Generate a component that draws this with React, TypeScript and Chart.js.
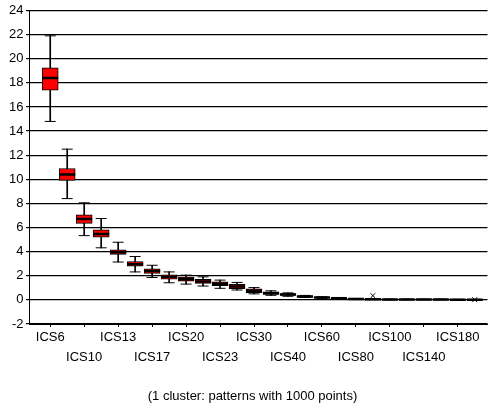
import React, { useEffect, useRef } from "react";
import { Chart, registerables } from "chart.js";

Chart.register(...registerables);

// Categories (every category, only every other one is labelled on the axis)
const categories = [
  "ICS6", "ICS8", "ICS10", "ICS12", "ICS13", "ICS15", "ICS17", "ICS18", "ICS20", "ICS22",
  "ICS23", "ICS25", "ICS30", "ICS35", "ICS40", "ICS50", "ICS60", "ICS70", "ICS80", "ICS90",
  "ICS100", "ICS120", "ICS140", "ICS160", "ICS180", "ICS200",
];

const whiskerLow = [14.8, 8.4, 5.33, 4.32, 3.14, 2.32, 1.86, 1.42, 1.31, 1.15, 0.96, 0.82, 0.5, 0.38, 0.3, 0.2, 0.13, 0.09, 0.04, 0.02, 0.01, 0.01, 0.01, 0.01, 0.0, 0.0];
const quartile1 = [17.4, 9.9, 6.35, 5.2, 3.78, 2.8, 2.2, 1.72, 1.56, 1.37, 1.17, 0.92, 0.6, 0.45, 0.36, 0.23, 0.16, 0.11, 0.06, 0.04, 0.02, 0.02, 0.02, 0.02, 0.01, 0.01];
const medians = [18.4, 10.4, 6.7, 5.47, 3.96, 2.95, 2.4, 1.91, 1.72, 1.53, 1.34, 1.1, 0.75, 0.55, 0.44, 0.28, 0.19, 0.14, 0.08, 0.06, 0.03, 0.03, 0.03, 0.03, 0.02, 0.02];
const quartile3 = [19.25, 10.9, 7.05, 5.8, 4.16, 3.17, 2.57, 2.07, 1.89, 1.7, 1.5, 1.28, 0.92, 0.66, 0.52, 0.33, 0.23, 0.17, 0.1, 0.08, 0.05, 0.05, 0.05, 0.05, 0.04, 0.03];
const whiskerHigh = [21.9, 12.5, 8.05, 6.75, 4.78, 3.6, 2.87, 2.32, 2.05, 1.91, 1.64, 1.45, 1.02, 0.75, 0.58, 0.37, 0.26, 0.2, 0.12, 0.1, 0.06, 0.06, 0.06, 0.06, 0.05, 0.04];

// Outlier markers (category index, value)
const outlierIdx = [19, 25];
const outlierVal = [0.35, 0.02];

const yTicks = [-2, 0, 2, 4, 6, 8, 10, 12, 14, 16, 18, 20, 22, 24];
const labelledIdx = [0, 2, 4, 6, 8, 10, 12, 14, 16, 18, 20, 22, 24];

const footer = "(1 cluster: patterns with 1000 points)";

const FONT = "'Liberation Sans', Arial, sans-serif";

export default function App() {
  const ref = useRef<HTMLCanvasElement | null>(null);

  useEffect(() => {
    if (!ref.current) return;
    const idx = categories.map((_, i) => i);
    const chart = new Chart(ref.current, {
      type: "bar",
      data: {
        datasets: [
          {
            type: "bar",
            label: "whisker",
            data: idx.map((i) => ({ x: i, y: [whiskerLow[i], whiskerHigh[i]] })) as any,
            backgroundColor: "#000",
            borderWidth: 0,
            barThickness: 1,
            grouped: false,
            order: 5,
          } as any,
          {
            type: "bar",
            label: "box",
            data: idx.map((i) => ({ x: i, y: [quartile1[i], quartile3[i]] })) as any,
            backgroundColor: "#ff0000",
            borderColor: "#000",
            borderWidth: 1,
            borderSkipped: false,
            barThickness: 16,
            grouped: false,
            order: 4,
          } as any,
          {
            type: "scatter",
            label: "caps",
            data: idx.flatMap((i) => [
              { x: i, y: whiskerLow[i] },
              { x: i, y: whiskerHigh[i] },
            ]),
            pointStyle: "line",
            radius: 5.5,
            borderColor: "#000",
            borderWidth: 1,
            order: 3,
          } as any,
          {
            type: "scatter",
            label: "median",
            data: idx.map((i) => ({ x: i, y: medians[i] })),
            pointStyle: "line",
            radius: 8,
            borderColor: "#000",
            borderWidth: 2.5,
            order: 2,
          } as any,
          {
            type: "scatter",
            label: "outliers",
            data: outlierIdx.map((c, k) => ({ x: c, y: outlierVal[k] })),
            pointStyle: "crossRot",
            radius: 3.5,
            borderColor: "#000",
            borderWidth: 1,
            order: 1,
          } as any,
        ],
      },
      options: {
        responsive: false,
        animation: false,
        events: [],
        layout: { padding: { top: 8.4, left: 8, right: 1, bottom: 0 } },
        plugins: {
          legend: { display: false },
          tooltip: { enabled: false },
          title: {
            display: true,
            position: "bottom",
            text: footer,
            color: "#000",
            font: { family: FONT, size: 13, weight: "normal" },
            padding: { top: 10, bottom: 6.2 },
          },
        },
        scales: {
          x: {
            type: "linear",
            offset: false,
            min: -1.25,
            max: 25.75,
            afterBuildTicks: (scale: any) => {
              scale.ticks = labelledIdx.map((v) => ({ value: v }));
            },
            afterFit: (scale: any) => {
              scale.height = 54.2;
              scale.paddingLeft = 0;
              scale.paddingRight = 0;
            },
            ticks: {
              autoSkip: false,
              maxRotation: 0,
              padding: 0,
              color: "#000",
              font: { family: FONT, size: 13, lineHeight: 20 / 13 },
              callback: (value: any) => {
                const i = Math.round(Number(value));
                const name = categories[i] ?? "";
                return (i / 2) % 2 === 1 ? ["", name] : name;
              },
            },
            grid: {
              display: true,
              offset: false,
              drawOnChartArea: false,
              drawTicks: true,
              tickLength: 3,
              color: "#000",
            },
            border: { display: true, color: "#000", width: 1 },
          },
          y: {
            type: "linear",
            min: -2,
            max: 24,
            afterBuildTicks: (scale: any) => {
              scale.ticks = yTicks.map((v) => ({ value: v }));
            },
            afterFit: (scale: any) => {
              scale.width = 21;
              scale.paddingTop = 0;
              scale.paddingBottom = 0;
            },
            ticks: {
              padding: 2.5,
              color: "#000",
              font: { family: FONT, size: 13 },
            },
            grid: {
              color: "#000",
              lineWidth: 1.2,
              drawTicks: true,
              tickLength: 3,
            },
            border: { display: true, color: "#000", width: 1 },
          },
        },
      } as any,
    });
    return () => chart.destroy();
  }, []);

  return (
    <div style={{ position: "fixed", left: 0, top: 0, width: 498, height: 410, background: "#fff" }}>
      <canvas ref={ref} width={498} height={410} style={{ display: "block" }} />
    </div>
  );
}
